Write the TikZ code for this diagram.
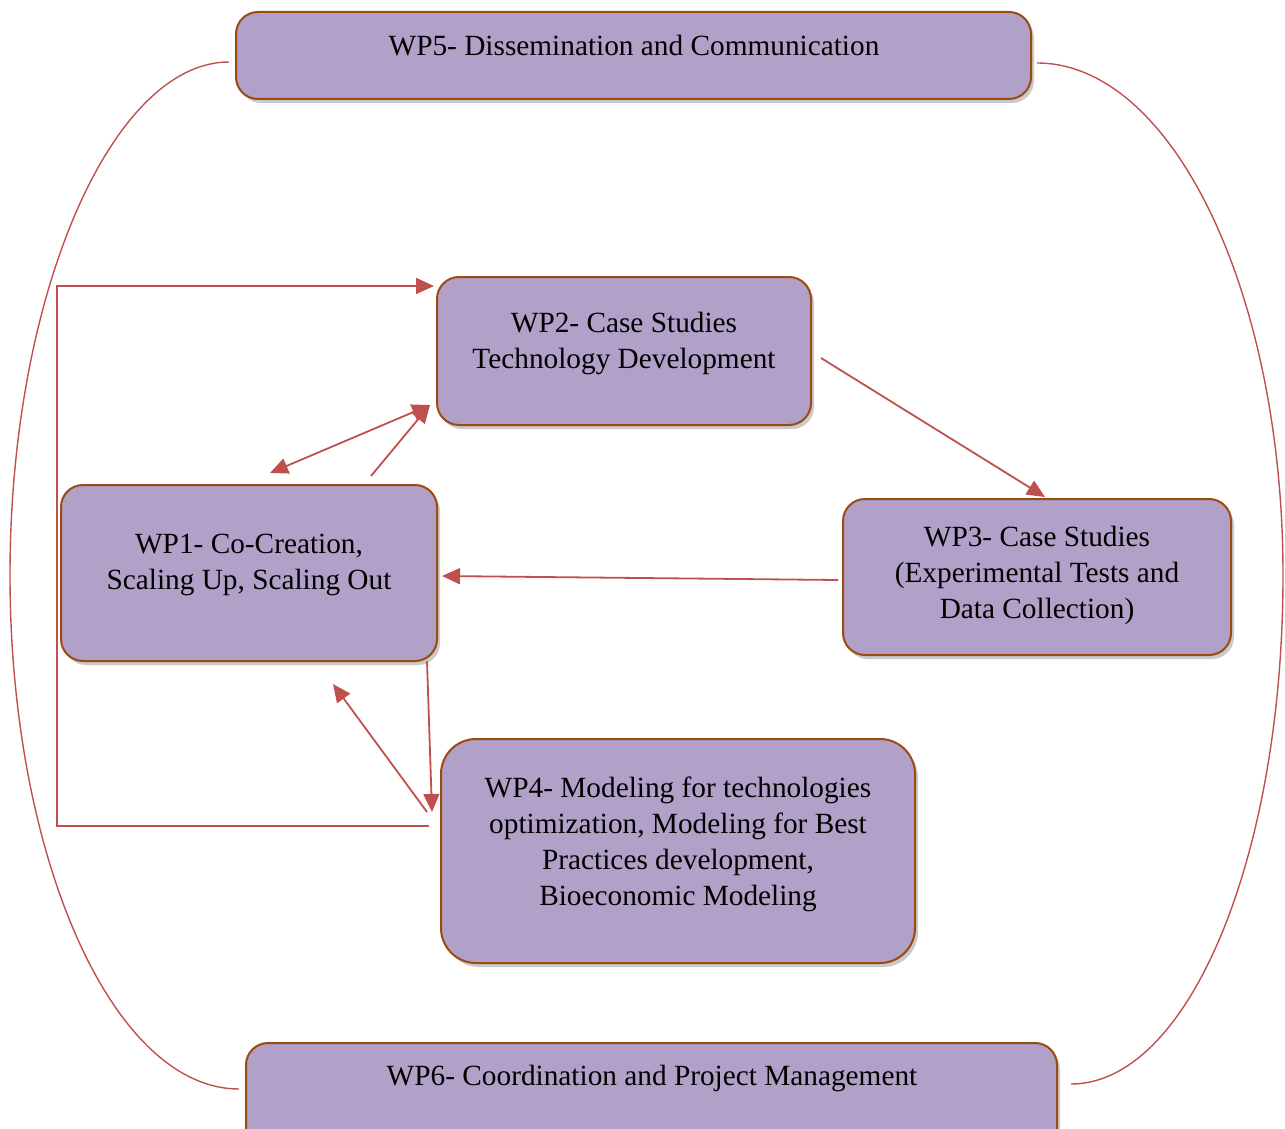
\documentclass[tikz,border=0pt]{standalone}
\usepackage{fontspec}
\setmainfont{Liberation Serif}
\usetikzlibrary{shadows,arrows.meta,calc}
\definecolor{boxfill}{HTML}{B1A0C7}
\definecolor{boxdraw}{HTML}{9C4A0F}
\definecolor{linkred}{HTML}{C0504D}
\begin{document}
\begin{tikzpicture}[x=1pt,y=-1pt,
  wpbox/.style={draw=boxdraw,line width=2pt,fill=boxfill,rounded corners=22pt,
    drop shadow={shadow xshift=3pt,shadow yshift=-4pt,opacity=0.35,fill=black!60},inner sep=0pt},
  wptext/.style={font=\fontsize{29.3}{36}\selectfont,align=center,inner sep=0pt},
  link/.style={draw=linkred,line width=1.8pt},
  tip/.style={-{Triangle[length=18pt,width=16pt]}},
  tips/.style={{Triangle[length=18pt,width=16pt]}-{Triangle[length=18pt,width=16pt]}}]
\clip (0,0) rectangle (1285,1129);
% boxes
\node[wpbox,minimum width=795pt,minimum height=87pt] (wp5) at (633.5,55.5) {};
\node[wpbox,minimum width=374pt,minimum height=148pt] (wp2) at (624,351) {};
\node[wpbox,minimum width=376pt,minimum height=176pt] (wp1) at (249,573) {};
\node[wpbox,minimum width=388pt,minimum height=156pt] (wp3) at (1037,577) {};
\node[wpbox,minimum width=474pt,minimum height=224pt,rounded corners=35pt] (wp4) at (678,851) {};
\node[wpbox,minimum width=811pt,minimum height=110pt] (wp6) at (651.5,1098) {};
% texts
\node[wptext] (t5) at (634,46) {WP5- Dissemination and Communication};
\node[wptext] (t2) at (624,343) {WP2- Case Studies\\Technology Development};
\node[wptext] (t1) at (249,565) {WP1- Co-Creation,\\Scaling Up, Scaling Out};
\node[wptext] (t3) at (1037,575) {WP3- Case Studies\\(Experimental Tests and\\Data Collection)};
\node[wptext] (t4) at (678,844) {WP4- Modeling for technologies\\optimization, Modeling for Best\\Practices development,\\Bioeconomic Modeling};
\node[wptext] (t6) at (652,1078) {WP6- Coordination and Project Management};
% arcs
\draw[link,line width=1.4pt] ($(wp5.west)+(-6,6.5)$) .. controls (113,62) and (10,292) .. (10,575)
  .. controls (10,858) and (113,1089) .. ($(wp6.west)+(-6,-9)$);
\draw[link,line width=1.4pt] ($(wp5.east)+(5,7.5)$) .. controls (1172,63) and (1283,292) .. (1283,575)
  .. controls (1283,858) and (1188,1084) .. ($(wp6.east)+(13,-14)$);
% bracket
\draw[link,tip] ($(wp4.west)+(-11,-25)$) -| (57,286) -- ($(wp2.west)+(-2,-65)$);
% arrows
\draw[link,tip] ($(wp2.east)+(9,7)$) -- ($(wp3.north)+(8,-1)$);
\draw[link,tip] ($(wp3.west)+(-4,3)$) -- ($(wp1.east)+(4,3)$);
\draw[link,tips] ($(wp1.north)+(21,-11)$) -- ($(wp2.west)+(-6,54)$);
\draw[link,tip] ($(wp1.north)+(122,-8)$) -- ($(wp2.west)+(-6,54)$);
\draw[link,tip] ($(wp1.south east)+(-11,-1)$) -- ($(wp4.west)+(-8,-39)$);
\draw[link,tip] ($(wp4.west)+(-13,-39)$) -- ($(wp1.south)+(84,22)$);
\end{tikzpicture}
\end{document}
